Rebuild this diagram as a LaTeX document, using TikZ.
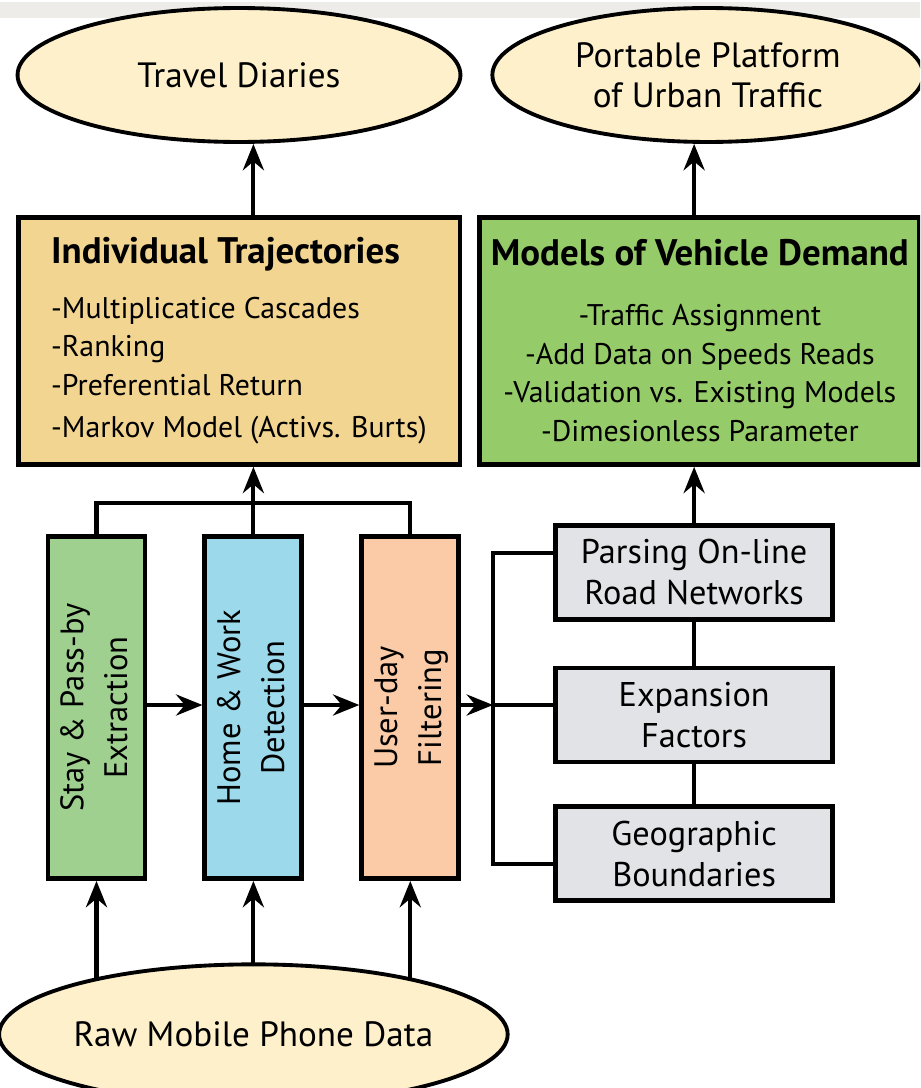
\documentclass[tikz,border=0pt]{standalone}
\usepackage{fontspec}
\setmainfont{PT Sans}
\usepackage{graphicx}
\usetikzlibrary{shapes.geometric, arrows.meta, positioning, backgrounds}

\definecolor{ovalfill}{HTML}{FDF0CB}
\definecolor{trajfill}{HTML}{F3D592}
\definecolor{demandfill}{HTML}{96CB69}
\definecolor{stayfill}{HTML}{9FD08F}
\definecolor{homefill}{HTML}{9CD9EB}
\definecolor{userfill}{HTML}{FBCBA7}
\definecolor{roadfill}{HTML}{E2E3E7}
\definecolor{stripgray}{HTML}{EEECE8}

\newcommand{\vtext}[2]{\rotatebox{90}{\begin{tabular}{@{}c@{}}#1\\#2\end{tabular}}}

\begin{document}
\begin{tikzpicture}[
    x=0.02cm, y=-0.02cm,
    font=\fontsize{20}{23}\selectfont,
    oval/.style={ellipse, draw=black, fill=ovalfill, line width=2.2pt, align=center, inner sep=0pt},
    bigbox/.style={rectangle, draw=black, line width=2.8pt, align=center, minimum width=8.84cm, minimum height=4.94cm, inner sep=2pt, font=\fontsize{17}{22}\selectfont},
    vbox/.style={rectangle, draw=black, line width=2.8pt, minimum width=1.94cm, minimum height=6.84cm, inner sep=0pt, font=\fontsize{18.5}{25}\selectfont},
    roadbox/.style={rectangle, draw=black, fill=roadfill, line width=2.8pt, align=center, minimum width=5.54cm, minimum height=1.88cm, font=\fontsize{19.5}{23}\selectfont},
    arrow/.style={-{Stealth[length=15pt, width=12pt, inset=5pt]}, line width=2.3pt},
    link/.style={line width=2.3pt}
]
\clip (0,0) rectangle (920,1088);
\fill[stripgray] (0,2) rectangle (920,18);

% Nodes
\node[oval, minimum width=8.86cm, minimum height=2.68cm] (travel) at (239,75) {Travel Diaries};

\node[bigbox, fill=trajfill, align=left, below=1.42cm of travel] (traj) {{\fontsize{21}{24}\selectfont\bfseries Individual Trajectories}\\[9pt]
-Multiplicatice Cascades\\
-Ranking\\
-Preferential Return\\[2pt]
-Markov Model (Activs. Burts)};
\node[bigbox, fill=demandfill, minimum width=8.8cm, right=0.3cm of traj] (demand) {{\fontsize{21}{24}\selectfont\bfseries Models of Vehicle Demand}\\[12pt]
-Traffic Assignment\\
-Add Data on Speeds Reads\\
-Validation vs. Existing Models\\
-Dimesionless Parameter};

\node[oval, minimum width=8.62cm, minimum height=2.68cm, above=1.42cm of demand, xshift=0.16cm] (portable) {Portable Platform\\of Urban Traffic};

\node[vbox, fill=stayfill] (stay) at (96.5,707.5) {\vtext{Stay \& Pass-by}{Extraction}};
\node[vbox, fill=homefill, right=1.1cm of stay] (home) {\vtext{Home \& Work}{Detection}};
\node[vbox, fill=userfill, right=1.1cm of home] (user) {\vtext{User-day}{Filtering}};

\node[roadbox, right=1.84cm of user, yshift=-0.15cm] (expansion) {Expansion\\Factors};
\node[roadbox, above=0.88cm of expansion] (parsing) {Parsing On-line\\Road Networks};
\node[roadbox, below=0.8cm of expansion] (geo) {Geographic\\Boundaries};

\node[oval, minimum width=8.9cm, minimum height=2.8cm, below=1.63cm of home] (raw) {Raw Mobile Phone Data};

\coordinate (bar) at (248,503);
\coordinate (split) at (493,705);

% Arrows
\draw[arrow] (traj.north -| home.north) -- (travel.south -| home.north);
\draw[arrow] (demand.north -| parsing.north) -- (portable.south -| parsing.north);
\draw[link] (stay.north) |- (bar) -| (user.north);
\draw[arrow] (home.north) -- (traj.south -| home.north);
\draw[arrow] (stay.east |- split) -- (home.west |- split);
\draw[arrow] (home.east |- split) -- (user.west |- split);
\draw[arrow] (user.east |- split) -- (split);
\draw[link] ([yshift=0.38cm]parsing.west) -| (split) |- ([yshift=-0.2cm]geo.west);
\draw[link] (split) -- (expansion.west |- split);
\draw[link] (parsing.south) -- (parsing.south |- expansion.north);
\draw[link] (expansion.south) -- (expansion.south |- geo.north);
\draw[arrow] (parsing.north) -- (parsing.north |- demand.south);

\begin{scope}[on background layer]
\draw[arrow] (raw.center -| stay.south) -- (stay.south);
\draw[arrow] (raw.center -| home.south) -- (home.south);
\draw[arrow] (raw.center -| user.south) -- (user.south);
\end{scope}

\end{tikzpicture}
\end{document}
